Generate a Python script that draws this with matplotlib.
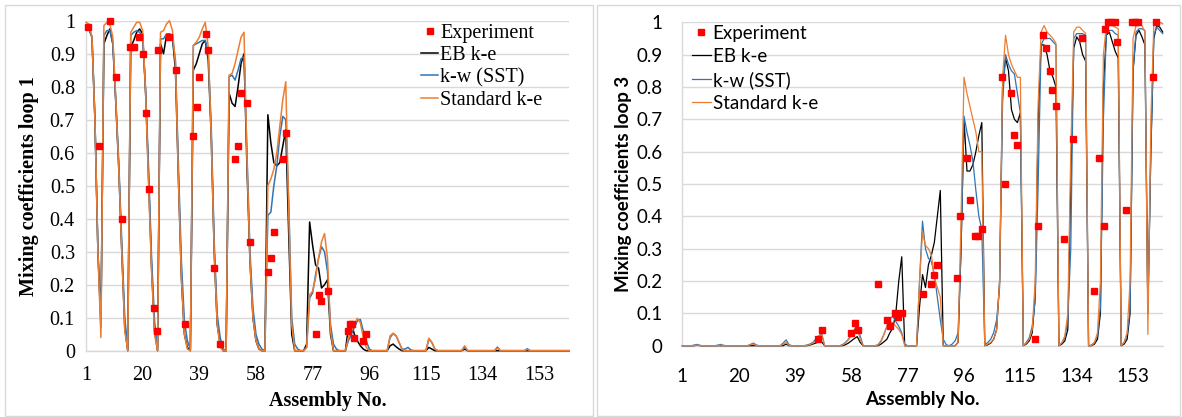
import numpy as np
import matplotlib
matplotlib.use("Agg")
import matplotlib.pyplot as plt
from matplotlib.patches import Rectangle
from matplotlib.lines import Line2D

# ---------------- data ----------------
xticks = [1, 20, 39, 58, 77, 96, 115, 134, 153]
yticks = [0, 0.1, 0.2, 0.3, 0.4, 0.5, 0.6, 0.7, 0.8, 0.9, 1.0]
ytick_labels = ["0", "0.1", "0.2", "0.3", "0.4", "0.5", "0.6", "0.7", "0.8", "0.9", "1"]
series_names = ["Experiment", "EB k-e", "k-w (SST)", "Standard k-e"]

# Loop 1 (left panel), values at assemblies 1..163
loop1_eb = [
    0.98, 0.975, 0.95, 0.7, 0.3, 0.09, 0.93, 0.955, 0.975, 0.93,
    0.75, 0.55, 0.3, 0.07, 0.0, 0.92, 0.94, 0.965, 0.975, 0.96,
    0.78, 0.52, 0.25, 0.06, 0.0, 0.93, 0.90, 0.955, 0.96, 0.95,
    0.85, 0.52, 0.22, 0.05, 0.01, 0.0, 0.85, 0.87, 0.9, 0.93,
    0.94, 0.88, 0.65, 0.3, 0.08, 0.02, 0.0, 0.0, 0.78, 0.75,
    0.74, 0.8, 0.87, 0.9, 0.55, 0.27, 0.1, 0.03, 0.005, 0.0,
    0.0, 0.715, 0.63, 0.57, 0.56, 0.57, 0.62, 0.67, 0.35, 0.05,
    0, 0, 0, 0, 0.02, 0.39, 0.32, 0.26, 0.25, 0.19,
    0.2, 0.215, 0.05, 0, 0, 0, 0, 0, 0.07, 0.085,
    0.05, 0.03, 0.015, 0.005, 0, 0, 0, 0, 0, 0,
    0, 0, 0.015, 0.02, 0.012, 0.005, 0, 0, 0, 0,
    0, 0, 0, 0, 0, 0.01, 0.005, 0, 0, 0,
    0, 0, 0, 0, 0, 0, 0, 0.005, 0, 0,
    0, 0, 0, 0, 0, 0, 0, 0, 0, 0,
    0, 0, 0, 0, 0, 0, 0, 0, 0, 0,
    0, 0, 0, 0, 0, 0, 0, 0, 0, 0,
    0, 0, 0,
]
loop1_sst = [
    0.98, 0.975, 0.95, 0.7, 0.3, 0.07, 0.955, 0.97, 0.97, 0.93,
    0.76, 0.57, 0.33, 0.1, 0.01, 0.955, 0.965, 0.97, 0.965, 0.95,
    0.79, 0.55, 0.28, 0.09, 0.01, 0.945, 0.945, 0.96, 0.96, 0.95,
    0.88, 0.56, 0.27, 0.09, 0.03, 0.005, 0.925, 0.93, 0.935, 0.94,
    0.94, 0.9, 0.68, 0.33, 0.11, 0.04, 0.005, 0.0, 0.83, 0.835,
    0.82, 0.85, 0.885, 0.89, 0.6, 0.3, 0.13, 0.05, 0.02, 0.005,
    0.0, 0.41, 0.42, 0.5, 0.56, 0.65, 0.71, 0.7, 0.45, 0.1,
    0.02, 0.005, 0, 0, 0.01, 0.16, 0.175, 0.23, 0.28, 0.315,
    0.3, 0.24, 0.08, 0.02, 0.005, 0, 0, 0, 0.03, 0.05,
    0.07, 0.09, 0.095, 0.06, 0.03, 0.005, 0, 0, 0, 0,
    0, 0, 0.04, 0.052, 0.045, 0.025, 0.005, 0.005, 0.01, 0.002,
    0, 0, 0, 0, 0, 0.035, 0.025, 0.005, 0, 0,
    0, 0, 0, 0, 0, 0, 0, 0.012, 0, 0,
    0, 0, 0, 0, 0, 0, 0, 0, 0.011, 0,
    0, 0, 0, 0, 0, 0, 0, 0, 0.006, 0,
    0, 0, 0, 0, 0, 0, 0, 0, 0, 0,
    0, 0, 0,
]
loop1_std = [
    0.995, 0.99, 0.95, 0.7, 0.3, 0.04, 0.985, 0.995, 0.99, 0.95,
    0.76, 0.55, 0.3, 0.06, 0.0, 0.965, 0.98, 0.995, 0.995, 0.97,
    0.78, 0.5, 0.24, 0.05, 0.0, 0.965, 0.97, 0.99, 1.0, 0.97,
    0.87, 0.52, 0.22, 0.05, 0.005, 0.0, 0.925, 0.935, 0.95, 0.975,
    0.995, 0.92, 0.65, 0.3, 0.08, 0.01, 0, 0, 0.835, 0.84,
    0.87, 0.91, 0.95, 0.965, 0.58, 0.27, 0.1, 0.03, 0.005, 0,
    0, 0.5, 0.52, 0.55, 0.6, 0.68, 0.76, 0.815, 0.42, 0.08,
    0, 0, 0, 0, 0.01, 0.17, 0.18, 0.22, 0.28, 0.33,
    0.355, 0.28, 0.06, 0, 0, 0, 0, 0, 0.04, 0.06,
    0.08, 0.098, 0.085, 0.04, 0.01, 0, 0, 0, 0, 0,
    0, 0, 0.045, 0.053, 0.045, 0.025, 0.003, 0, 0, 0,
    0, 0, 0, 0, 0, 0.038, 0.025, 0.005, 0, 0,
    0, 0, 0, 0, 0, 0, 0, 0.015, 0, 0,
    0, 0, 0, 0, 0, 0, 0, 0, 0.008, 0,
    0, 0, 0, 0, 0, 0, 0, 0, 0.004, 0,
    0, 0, 0, 0, 0, 0, 0, 0, 0, 0,
    0, 0, 0,
]
loop1_exp_x = [1.8, 5.3, 9, 11.1, 13.2, 15.8, 17.1, 18.8, 20, 21, 22.2, 23.8, 24.9, 25.3,
               28.9, 31.1, 34.2, 37, 38.1, 39, 41.2, 42, 44, 46, 51, 52, 53.1, 55, 56,
               62, 63, 63.9, 67.2, 68, 78.1, 79, 79.9, 82.1, 88.8, 89.6, 90.2, 91, 94, 94.9]
loop1_exp_y = [0.98, 0.62, 1.0, 0.83, 0.40, 0.92, 0.92, 0.95, 0.90, 0.72, 0.49, 0.13, 0.06, 0.91,
               0.95, 0.85, 0.08, 0.65, 0.74, 0.83, 0.96, 0.91, 0.25, 0.02, 0.58, 0.62, 0.78, 0.75, 0.33,
               0.24, 0.28, 0.36, 0.58, 0.66, 0.05, 0.17, 0.15, 0.18, 0.06, 0.08, 0.08, 0.04, 0.03, 0.05]

# Loop 3 (right panel)
loop3_eb = [
    0, 0, 0, 0, 0, 0.002, 0, 0, 0, 0,
    0, 0, 0, 0, 0, 0, 0, 0, 0, 0,
    0, 0, 0, 0, 0, 0, 0, 0, 0, 0,
    0, 0, 0, 0, 0, 0.005, 0, 0, 0, 0,
    0, 0, 0, 0.002, 0.005, 0.008, 0.012, 0.012, 0, 0,
    0, 0, 0, 0, 0, 0.003, 0.008, 0.015, 0.022, 0.028,
    0.01, 0, 0, 0, 0, 0, 0, 0.005, 0.012, 0.02,
    0.04, 0.055, 0.1, 0.2, 0.275, 0, 0, 0, 0, 0,
    0.12, 0.22, 0.18, 0.25, 0.28, 0.32, 0.4, 0.48, 0, 0,
    0, 0, 0, 0.01, 0.3, 0.7, 0.54, 0.54, 0.56, 0.6,
    0.65, 0.69, 0, 0.003, 0.008, 0.02, 0.05, 0.2, 0.8, 0.89,
    0.85, 0.73, 0.7, 0.69, 0.72, 0, 0.005, 0.015, 0.04, 0.15,
    0.7, 0.93, 0.93, 0.9, 0.85, 0.83, 0.8, 0, 0.005, 0.015,
    0.05, 0.5, 0.92, 0.955, 0.94, 0.9, 0.88, 0, 0, 0.005,
    0.02, 0.1, 0.8, 0.96, 0.97, 0.94, 0.91, 0.89, 0, 0.005,
    0.02, 0.1, 0.85, 0.96, 0.975, 0.955, 0.93, 0.1, 0.6, 0.95,
    0.99, 0.985, 0.97,
]
loop3_sst = [
    0, 0, 0, 0, 0.002, 0.004, 0.001, 0, 0, 0,
    0, 0, 0.002, 0.004, 0.001, 0, 0, 0, 0, 0,
    0, 0, 0, 0.004, 0.008, 0.002, 0, 0, 0, 0,
    0, 0, 0, 0, 0.008, 0.018, 0.003, 0, 0, 0,
    0, 0, 0.002, 0.005, 0.01, 0.02, 0.03, 0.038, 0, 0,
    0, 0, 0, 0, 0.003, 0.01, 0.02, 0.035, 0.05, 0.06,
    0.03, 0, 0, 0, 0, 0, 0.003, 0.015, 0.035, 0.06,
    0.085, 0.09, 0.075, 0.06, 0.04, 0.005, 0, 0, 0, 0,
    0.2, 0.385, 0.3, 0.27, 0.26, 0.22, 0.15, 0.08, 0.02, 0.003,
    0, 0.005, 0.015, 0.04, 0.3, 0.71, 0.66, 0.62, 0.57, 0.48,
    0.4, 0.36, 0.002, 0.01, 0.02, 0.04, 0.08, 0.18, 0.75, 0.9,
    0.87, 0.85, 0.84, 0.78, 0.72, 0, 0.01, 0.025, 0.06, 0.14,
    0.5, 0.93, 0.95, 0.95, 0.95, 0.94, 0.93, 0, 0.008, 0.025,
    0.08, 0.3, 0.95, 0.965, 0.965, 0.965, 0.96, 0, 0.002, 0.01,
    0.03, 0.12, 0.7, 0.97, 0.975, 0.975, 0.965, 0.96, 0, 0.01,
    0.035, 0.11, 0.85, 0.97, 0.98, 0.98, 0.975, 0.1, 0.6, 0.96,
    0.985, 0.975, 0.965,
]
loop3_std = [
    0, 0, 0, 0, 0, 0.002, 0, 0, 0, 0,
    0, 0, 0, 0.002, 0, 0, 0, 0, 0, 0,
    0, 0, 0, 0.003, 0.005, 0, 0, 0, 0, 0,
    0, 0, 0, 0, 0.004, 0.01, 0.001, 0, 0, 0,
    0, 0, 0.001, 0.003, 0.008, 0.015, 0.028, 0.035, 0, 0,
    0, 0, 0, 0, 0.002, 0.008, 0.018, 0.03, 0.045, 0.055,
    0.02, 0, 0, 0, 0, 0, 0.002, 0.012, 0.035, 0.06,
    0.075, 0.07, 0.06, 0.05, 0.035, 0, 0, 0, 0, 0,
    0.2, 0.35, 0.31, 0.3, 0.28, 0.21, 0.18, 0.15, 0, 0,
    0, 0, 0, 0.01, 0.4, 0.83, 0.78, 0.74, 0.7, 0.66,
    0.6, 0.6, 0, 0.005, 0.01, 0.02, 0.05, 0.2, 0.83, 0.96,
    0.9, 0.87, 0.85, 0.83, 0.83, 0, 0.008, 0.02, 0.05, 0.2,
    0.75, 0.97, 0.99, 0.97, 0.96, 0.95, 0.935, 0, 0.01, 0.03,
    0.1, 0.6, 0.97, 0.985, 0.985, 0.975, 0.966, 0, 0, 0.01,
    0.04, 0.2, 0.9, 0.99, 0.997, 0.99, 0.985, 0.98, 0, 0.01,
    0.04, 0.2, 0.95, 0.99, 0.997, 0.99, 0.97, 0.035, 0.7, 0.99,
    1.0, 1.0, 0.995,
]
loop3_exp_x = [46.6, 48, 57.9, 59.2, 60.1, 67.1, 69.9, 71, 72.7, 73.8, 75, 82, 84.8, 85.8, 87,
               93.7, 94.8, 97.1, 98, 99.7, 100.8, 101.9, 108.7, 109.9, 112, 112.9, 113.9,
               120, 120.9, 122.7, 123.8, 124.9, 125.8, 126.9, 129.8, 132.8, 135.9, 139.9,
               141.6, 143.1, 143.6, 144.6, 145.7, 146.9, 147.7, 150.7, 152.6, 153.7, 154.8,
               159.8, 160.9]
loop3_exp_y = [0.02, 0.05, 0.04, 0.07, 0.05, 0.19, 0.08, 0.06, 0.1, 0.09, 0.1, 0.16, 0.19, 0.22, 0.25,
               0.21, 0.40, 0.58, 0.45, 0.34, 0.34, 0.36, 0.83, 0.5, 0.78, 0.65, 0.62,
               0.02, 0.37, 0.96, 0.92, 0.85, 0.79, 0.74, 0.33, 0.64, 0.95, 0.17,
               0.58, 0.37, 0.98, 1.0, 1.0, 1.0, 0.94, 0.42, 1.0, 1.0, 1.0,
               0.83, 1.0]

for s in (loop1_eb, loop1_sst, loop1_std, loop3_eb, loop3_sst, loop3_std):
    assert len(s) == 163, len(s)

# ---------------- style ----------------
C_EB = "#000000"
C_SST = "#2E75B6"
C_STD = "#ED7D31"
C_EXP = "#FF0000"
GRID = "#D9D9D9"

W, H = 1182, 417
fig = plt.figure(figsize=(W / 100, H / 100), dpi=100)
fig.patch.set_facecolor("white")

def fx(px):
    return px / W

def fy(py):
    return 1 - py / H

# panel borders
for (x0, y0, x1, y1) in [(5, 5, 593, 416), (597, 5, 1180, 416)]:
    fig.patches.append(Rectangle((fx(x0), fy(y1)), fx(x1) - fx(x0), fy(y0) - fy(y1),
                                 transform=fig.transFigure, fill=False,
                                 edgecolor=GRID, linewidth=1.0))

panels = [
    dict(box=(86, 20.7, 569, 350.7), eb=loop1_eb, sst=loop1_sst, std=loop1_std,
         ex=loop1_exp_x, ey=loop1_exp_y, font="Liberation Serif", fs=14.5, labfs=14.5,
         ylabel="Mixing coefficients loop 1", ylab_x=29.5, xlab_y=401,
         ypad=8, xpad=11, lw=1.1, leg=(421, 24), legfs=14.5, ms=4.6,
         hl=0.85, ls=0.15),
    dict(box=(682.3, 22.3, 1162.7, 345.7), eb=loop3_eb, sst=loop3_sst, std=loop3_std,
         ex=loop3_exp_x, ey=loop3_exp_y, font="Lato", fs=13.5, labfs=13.5,
         ylabel="Mixing coefficients loop 3", ylab_x=624, xlab_y=399,
         ypad=14, xpad=16, lw=0.9, leg=(692, 25), legfs=13.5, ms=4.6,
         hl=1.0, ls=0.32),
]

for p in panels:
    l, t, r, b = p["box"]
    ax = fig.add_axes([fx(l), fy(b), fx(r) - fx(l), fy(t) - fy(b)])
    x = np.arange(1, 164)
    ax.plot(x, p["eb"], color=C_EB, lw=p["lw"], zorder=3, clip_on=False)
    ax.plot(x, p["sst"], color=C_SST, lw=p["lw"], zorder=4, clip_on=False)
    ax.plot(x, p["std"], color=C_STD, lw=p["lw"], zorder=5, clip_on=False)
    ax.plot(p["ex"], p["ey"], ls="none", marker="s", ms=p["ms"], color=C_EXP,
            mec=C_EXP, zorder=6, clip_on=False)
    ax.set_xlim(1, 163)
    ax.set_ylim(0, 1)
    ax.set_xticks(xticks)
    ax.set_xticklabels([str(v) for v in xticks], fontfamily=p["font"], fontsize=p["fs"])
    ax.set_yticks(yticks)
    ax.set_yticklabels(ytick_labels, fontfamily=p["font"], fontsize=p["fs"])
    ax.tick_params(axis="both", length=0)
    ax.tick_params(axis="y", pad=p["ypad"])
    ax.tick_params(axis="x", pad=p["xpad"])
    ax.grid(axis="y", color=GRID, lw=1.0)
    ax.set_axisbelow(True)
    for side in ("top", "right"):
        ax.spines[side].set_visible(False)
    for side in ("left", "bottom"):
        ax.spines[side].set_color(GRID)
        ax.spines[side].set_linewidth(1.0)
    ax.set_facecolor("none")

    fig.text(fx((l + r) / 2), fy(p["xlab_y"]), "Assembly No.", ha="center", va="center",
             fontfamily=p["font"], fontsize=p["labfs"], fontweight="bold")
    fig.text(fx(p["ylab_x"]), fy((t + b) / 2), p["ylabel"], ha="center", va="center",
             rotation=90, fontfamily=p["font"], fontsize=p["labfs"], fontweight="bold")

    handles = [
        Line2D([], [], ls="none", marker="s", ms=p["ms"], color=C_EXP),
        Line2D([], [], color=C_EB, lw=p["lw"]),
        Line2D([], [], color=C_SST, lw=p["lw"]),
        Line2D([], [], color=C_STD, lw=p["lw"]),
    ]
    lx, ly = p["leg"]
    fig.legend(handles, series_names, loc="upper left",
               bbox_to_anchor=(fx(lx), fy(ly)), bbox_transform=fig.transFigure,
               frameon=False, borderpad=0, borderaxespad=0, handlelength=p["hl"],
               handletextpad=0.1, labelspacing=p["ls"], numpoints=1,
               prop={"family": p["font"], "size": p["legfs"]})

fig.savefig("out.png", dpi=100, facecolor="white")
